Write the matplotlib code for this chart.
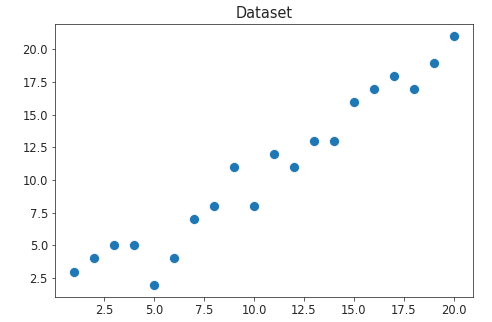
import matplotlib
matplotlib.use('Agg')
import matplotlib.pyplot as plt

# dataset points
x_vals = list(range(1, 21))
y_vals = [3, 4, 5, 5, 2, 4, 7, 8, 11, 8, 12, 11, 13, 13, 16, 17, 18, 17, 19, 21]

fig = plt.figure(figsize=(492 / 72, 322 / 72), dpi=72)
ax = fig.add_axes([55 / 492, 25 / 322, 418 / 492, 273 / 322])
ax.scatter(x_vals, y_vals, s=100, color='#1f77b4', edgecolor='white', linewidth=0.75)
ax.set_title('Dataset', fontsize=14.5, color='#262626')
ax.tick_params(labelsize=11.5, labelcolor='#262626', color='#333333')
for sp in ax.spines.values():
    sp.set_color('#333333')

fig.savefig('out.png', dpi=72)
